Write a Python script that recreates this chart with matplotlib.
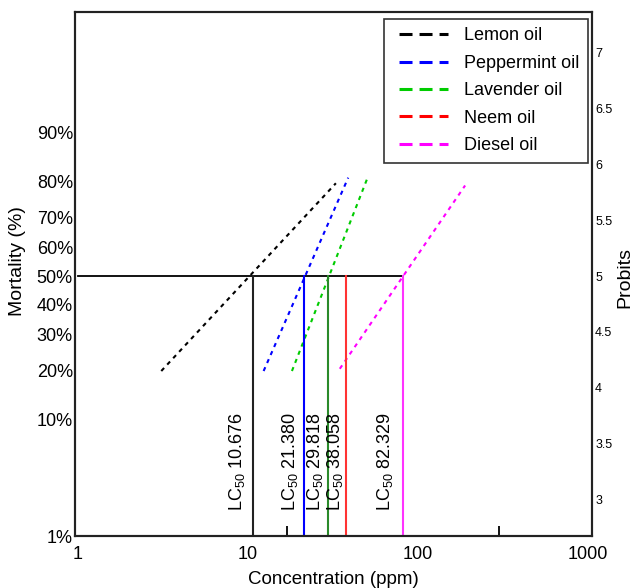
import numpy as np
import matplotlib
matplotlib.use('Agg')
import matplotlib.pyplot as plt
from matplotlib.lines import Line2D
from matplotlib.ticker import FixedLocator, NullFormatter
from statistics import NormalDist

plt.rcParams['font.family'] = ['Liberation Sans', 'DejaVu Sans']
plt.rcParams['mathtext.fontset'] = 'custom'
plt.rcParams['mathtext.rm'] = 'Liberation Sans'
plt.rcParams['mathtext.it'] = 'Liberation Sans:italic'

# oils, colours and LC50 values (ppm)
oils = ['Lemon oil', 'Peppermint oil', 'Lavender oil', 'Neem oil', 'Diesel oil']
dash_colors = ['black', '#0000ff', '#00cc00', '#ff0000', '#ff00ff']
lc_colors = ['#222222', '#0000ff', '#2a8a2a', '#ff3333', '#ff33ff']
lc50 = [10.676, 21.380, 29.818, 38.058, 82.329]

fit_conc = {
    'Lemon oil': [3.1, 33.0],
    'Peppermint oil': [12.4, 39.0],
    'Lavender oil': [18.2, 51.0],
    'Diesel oil': [34.8, 190.0],
}
fit_probit = {
    'Lemon oil': [4.15, 5.83],
    'Peppermint oil': [4.15, 5.88],
    'Lavender oil': [4.15, 5.89],
    'Diesel oil': [4.17, 5.81],
}

mort_ticks = [1, 10, 20, 30, 40, 50, 60, 70, 80, 90]
probit_ticks = [3, 3.5, 4, 4.5, 5, 5.5, 6, 6.5, 7]

# gap (points) between each LC50 label and its line
label_gap = [-4, -2.5, -2.5, -1, -6]

nd = NormalDist()
def to_probit(p):
    return 5 + nd.inv_cdf(p / 100.0)

fig = plt.figure(figsize=(6.32, 5.88), dpi=100)
ax = fig.add_axes([0.1187, 0.0884, 0.8185, 0.8917])

ymin, ymax = to_probit(1), 7.365

for name, c in zip(oils, dash_colors):
    if name in fit_conc:
        ax.plot(fit_conc[name], fit_probit[name], color=c, lw=1.5,
                linestyle=(0, (2, 2.2)))

# 50% line and LC50 drop lines
ax.plot([1, max(lc50)], [5, 5], color='black', lw=1.3)
for lc, c, g in zip(lc50, lc_colors, label_gap):
    ax.plot([lc, lc], [ymin, 5], color=c, lw=1.5)
    ax.annotate('LC$_{50}$ %.3f' % lc, xy=(lc, 2.90), xytext=(g, 0),
                textcoords='offset points', rotation=90, ha='right', va='bottom',
                fontsize=13)

ax.set_xscale('log')
ax.set_xlim(10 ** -0.016, 10 ** 3.027)
ax.set_ylim(ymin, ymax)

ax.set_xticks([1, 10, 100, 1000])
ax.set_xticklabels(['1', '10', '100', '1000'])
ax.xaxis.set_minor_locator(FixedLocator([10 ** 1.23, 10 ** 2.48]))
ax.xaxis.set_minor_formatter(NullFormatter())
ax.tick_params(axis='x', which='major', length=0, labelsize=13, pad=7)
ax.tick_params(axis='x', which='minor', length=7, width=1.3, direction='in')

ax.set_yticks([to_probit(p) for p in mort_ticks])
ax.set_yticklabels(['%d%%' % p for p in mort_ticks])
ax.tick_params(axis='y', length=0, labelsize=13, pad=1.5)
ax.set_xlabel('Concentration (ppm)', fontsize=13.5, labelpad=6)
ax.set_ylabel('Mortality (%)', fontsize=14)
ax.yaxis.set_label_coords(-0.094, 0.5245)

ax2 = ax.twinx()
ax2.set_ylim(ymin, ymax)
ax2.set_yticks(probit_ticks)
ax2.set_yticklabels(['%g' % p for p in probit_ticks])
ax2.tick_params(axis='y', length=0, labelsize=9, pad=2)
ax2.set_ylabel('Probits', fontsize=14)
ax2.yaxis.set_label_coords(1.046, 0.494)

for a in (ax, ax2):
    for s in a.spines.values():
        s.set_linewidth(1.5)
        s.set_color('#222222')

handles = [Line2D([], [], color=c, lw=2.2, linestyle=(4.25, (4.25, 2.3)))
           for c in dash_colors]
leg = ax2.legend(handles, oils, loc='upper right', bbox_to_anchor=(0.992, 0.986),
                 borderaxespad=0, fontsize=13, handlelength=3.1, handletextpad=0.89,
                 labelspacing=0.58, borderpad=0.46, fancybox=False, framealpha=1)
leg.get_frame().set_edgecolor('#333333')
leg.get_frame().set_linewidth(1.2)

plt.savefig('out.png', dpi=100)
